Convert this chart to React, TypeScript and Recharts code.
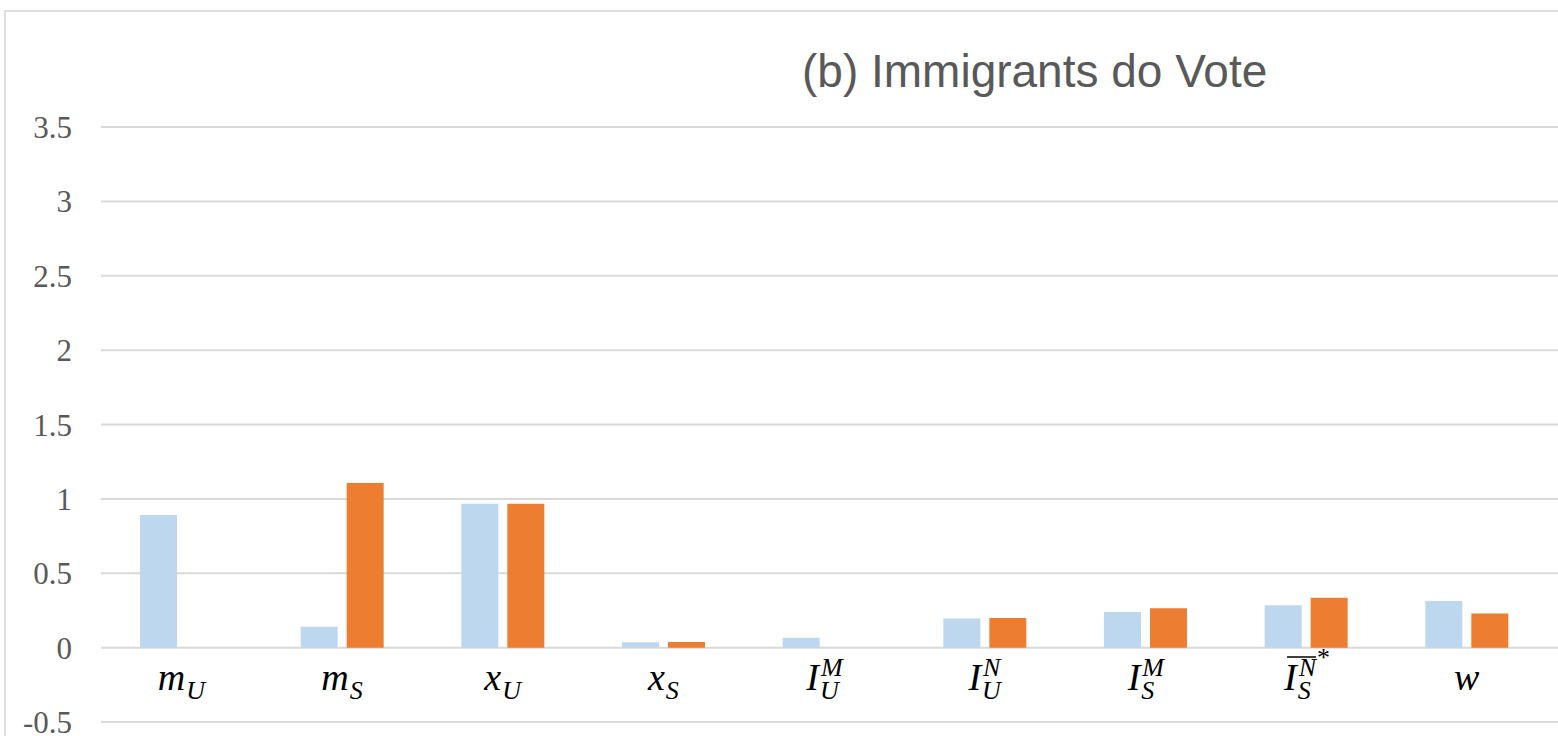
import { BarChart, Bar, XAxis, YAxis, CartesianGrid } from 'recharts';

// category keys, left to right
const categories = ['mU', 'mS', 'xU', 'xS', 'IUM', 'IUN', 'ISM', 'ISNbar', 'w'];

// how each category label is typeset: base letter, subscript, superscript
const labelBase = ['m', 'm', 'x', 'x', 'I', 'I', 'I', 'I', 'w'];
const labelSub = ['U', 'S', 'U', 'S', 'U', 'U', 'S', 'S', ''];
const labelSup = ['', '', '', '', 'M', 'N', 'M', 'N', ''];
const labelBar = [false, false, false, false, false, false, false, true, false];
const labelStar = [false, false, false, false, false, false, false, true, false];

// the two series (light blue, orange)
const seriesOne = [0.891, 0.14, 0.967, 0.036, 0.066, 0.195, 0.24, 0.285, 0.314];
const seriesTwo = [0, 1.106, 0.967, 0.037, 0, 0.2, 0.264, 0.336, 0.23];

const yTicks = [-0.5, 0, 0.5, 1, 1.5, 2, 2.5, 3, 3.5];

const TEXT = '#595959';
const GRID = '#d9d9d9';
const MATH_FONT = '"Liberation Serif", "Times New Roman", serif';

const data = categories.map((c, i) => ({
  cat: c,
  seriesOne: seriesOne[i],
  seriesTwo: seriesTwo[i],
}));

let ctx: CanvasRenderingContext2D | null = null;
function textWidth(s: string, size: number, italic = true): number {
  if (!s) return 0;
  if (!ctx) ctx = document.createElement('canvas').getContext('2d');
  if (!ctx) return s.length * size * 0.5;
  ctx.font = `${italic ? 'italic ' : ''}${size}px ${MATH_FONT}`;
  return ctx.measureText(s).width;
}

const BASE_SIZE = 38;
const SMALL_SIZE = 26;

function MathTick(props: any) {
  const { x, y, payload } = props;
  const i = categories.indexOf(payload.value);
  if (i < 0) return null;
  const base = labelBase[i];
  const sub = labelSub[i];
  const sup = labelSup[i];
  const baseW = textWidth(base, BASE_SIZE);
  const scriptW = Math.max(textWidth(sub, SMALL_SIZE), textWidth(sup, SMALL_SIZE));
  const starW = labelStar[i] ? textWidth('*', SMALL_SIZE, false) : 0;
  const total = baseW + (scriptW ? scriptW + 1 : 0) + starW;
  const left = -total / 2;
  const bx = left + baseW;
  const by = y - 32;
  return (
    <g transform={`translate(${x},${by})`} fill="#000" fontFamily={MATH_FONT} fontStyle="italic">
      <text x={left} y={0} fontSize={BASE_SIZE} textAnchor="start">{base}</text>
      {sub && (
        <text x={bx + 1} y={9} fontSize={SMALL_SIZE} textAnchor="start">{sub}</text>
      )}
      {sup && (
        <text x={bx + 2} y={-14} fontSize={SMALL_SIZE} textAnchor="start">{sup}</text>
      )}
      {labelBar[i] && (
        <line x1={left + 3} x2={bx + 2 + scriptW} y1={-33} y2={-33} stroke="#000" strokeWidth={1.5} />
      )}
      {labelStar[i] && (
        <text x={bx + 3 + scriptW} y={-24} fontSize={SMALL_SIZE} fontStyle="normal" textAnchor="start">*</text>
      )}
    </g>
  );
}

export default function App() {
  return (
    <div style={styles.page}>
      <div style={styles.frame} />
      <BarChart
        width={1560}
        height={736}
        data={data}
        margin={{ top: 127, right: 0, bottom: 13, left: 0 }}
        barSize={37}
        barGap={9}
      >
        <CartesianGrid horizontal vertical={false} stroke={GRID} strokeWidth={2} />
        <XAxis
          dataKey="cat"
          height={1}
          axisLine={false}
          tickLine={false}
          tickSize={0}
          tickMargin={0}
          interval={0}
          padding={{ left: 0, right: 13 }}
          tick={<MathTick />}
        />
        <YAxis
          width={101}
          domain={[-0.5, 3.5]}
          ticks={yTicks}
          interval={0}
          axisLine={false}
          tickLine={false}
          tickMargin={23}
          tick={{ fill: TEXT, fontSize: 31, fontFamily: MATH_FONT }}
        />
        <Bar dataKey="seriesOne" fill="#bdd7ee" isAnimationActive={false} />
        <Bar dataKey="seriesTwo" fill="#ed7d31" isAnimationActive={false} />
      </BarChart>
      <svg width={1558} height={736} style={styles.overlay}>
        <text
          x={802}
          y={87}
          fontSize={46}
          fill={TEXT}
          fontFamily='"Liberation Sans", Arial, sans-serif'
        >
          (b) Immigrants do Vote
        </text>
      </svg>
    </div>
  );
}

const styles: Record<string, React.CSSProperties> = {
  page: {
    position: 'absolute',
    left: 0,
    top: 0,
    width: 1558,
    height: 736,
    overflow: 'hidden',
    background: '#fff',
  },
  frame: {
    position: 'absolute',
    left: 4,
    top: 10,
    width: 1600,
    height: 800,
    borderLeft: '2px solid #dedede',
    borderTop: '2px solid #dedede',
  },
  overlay: {
    position: 'absolute',
    left: 0,
    top: 0,
    pointerEvents: 'none',
  },
};
